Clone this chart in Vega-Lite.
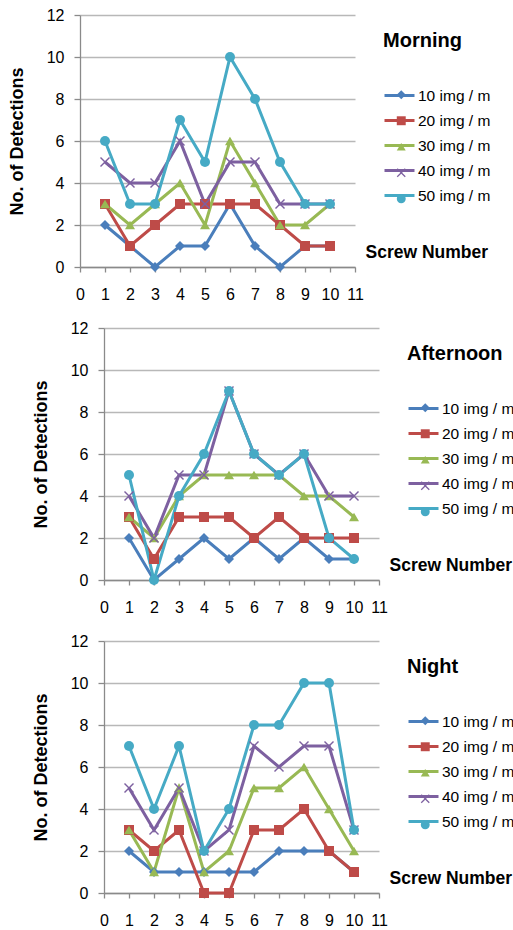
{
  "$schema": "https://vega.github.io/schema/vega-lite/v6.json",
  "padding": {"left": 8, "top": 7, "right": 0, "bottom": 0},
  "spacing": 18,
  "datasets": {
    "morning": [
      {"series": "10 img / m", "screw": 1, "count": 2}, {"series": "10 img / m", "screw": 2, "count": 1}, {"series": "10 img / m", "screw": 3, "count": 0}, {"series": "10 img / m", "screw": 4, "count": 1}, {"series": "10 img / m", "screw": 5, "count": 1}, {"series": "10 img / m", "screw": 6, "count": 3}, {"series": "10 img / m", "screw": 7, "count": 1}, {"series": "10 img / m", "screw": 8, "count": 0}, {"series": "10 img / m", "screw": 9, "count": 1}, {"series": "10 img / m", "screw": 10, "count": 1},
      {"series": "20 img / m", "screw": 1, "count": 3}, {"series": "20 img / m", "screw": 2, "count": 1}, {"series": "20 img / m", "screw": 3, "count": 2}, {"series": "20 img / m", "screw": 4, "count": 3}, {"series": "20 img / m", "screw": 5, "count": 3}, {"series": "20 img / m", "screw": 6, "count": 3}, {"series": "20 img / m", "screw": 7, "count": 3}, {"series": "20 img / m", "screw": 8, "count": 2}, {"series": "20 img / m", "screw": 9, "count": 1}, {"series": "20 img / m", "screw": 10, "count": 1},
      {"series": "30 img / m", "screw": 1, "count": 3}, {"series": "30 img / m", "screw": 2, "count": 2}, {"series": "30 img / m", "screw": 3, "count": 3}, {"series": "30 img / m", "screw": 4, "count": 4}, {"series": "30 img / m", "screw": 5, "count": 2}, {"series": "30 img / m", "screw": 6, "count": 6}, {"series": "30 img / m", "screw": 7, "count": 4}, {"series": "30 img / m", "screw": 8, "count": 2}, {"series": "30 img / m", "screw": 9, "count": 2}, {"series": "30 img / m", "screw": 10, "count": 3},
      {"series": "40 img / m", "screw": 1, "count": 5}, {"series": "40 img / m", "screw": 2, "count": 4}, {"series": "40 img / m", "screw": 3, "count": 4}, {"series": "40 img / m", "screw": 4, "count": 6}, {"series": "40 img / m", "screw": 5, "count": 3}, {"series": "40 img / m", "screw": 6, "count": 5}, {"series": "40 img / m", "screw": 7, "count": 5}, {"series": "40 img / m", "screw": 8, "count": 3}, {"series": "40 img / m", "screw": 9, "count": 3}, {"series": "40 img / m", "screw": 10, "count": 3},
      {"series": "50 img / m", "screw": 1, "count": 6}, {"series": "50 img / m", "screw": 2, "count": 3}, {"series": "50 img / m", "screw": 3, "count": 3}, {"series": "50 img / m", "screw": 4, "count": 7}, {"series": "50 img / m", "screw": 5, "count": 5}, {"series": "50 img / m", "screw": 6, "count": 10}, {"series": "50 img / m", "screw": 7, "count": 8}, {"series": "50 img / m", "screw": 8, "count": 5}, {"series": "50 img / m", "screw": 9, "count": 3}, {"series": "50 img / m", "screw": 10, "count": 3}
    ],
    "afternoon": [
      {"series": "10 img / m", "screw": 1, "count": 2}, {"series": "10 img / m", "screw": 2, "count": 0}, {"series": "10 img / m", "screw": 3, "count": 1}, {"series": "10 img / m", "screw": 4, "count": 2}, {"series": "10 img / m", "screw": 5, "count": 1}, {"series": "10 img / m", "screw": 6, "count": 2}, {"series": "10 img / m", "screw": 7, "count": 1}, {"series": "10 img / m", "screw": 8, "count": 2}, {"series": "10 img / m", "screw": 9, "count": 1}, {"series": "10 img / m", "screw": 10, "count": 1},
      {"series": "20 img / m", "screw": 1, "count": 3}, {"series": "20 img / m", "screw": 2, "count": 1}, {"series": "20 img / m", "screw": 3, "count": 3}, {"series": "20 img / m", "screw": 4, "count": 3}, {"series": "20 img / m", "screw": 5, "count": 3}, {"series": "20 img / m", "screw": 6, "count": 2}, {"series": "20 img / m", "screw": 7, "count": 3}, {"series": "20 img / m", "screw": 8, "count": 2}, {"series": "20 img / m", "screw": 9, "count": 2}, {"series": "20 img / m", "screw": 10, "count": 2},
      {"series": "30 img / m", "screw": 1, "count": 3}, {"series": "30 img / m", "screw": 2, "count": 2}, {"series": "30 img / m", "screw": 3, "count": 4}, {"series": "30 img / m", "screw": 4, "count": 5}, {"series": "30 img / m", "screw": 5, "count": 5}, {"series": "30 img / m", "screw": 6, "count": 5}, {"series": "30 img / m", "screw": 7, "count": 5}, {"series": "30 img / m", "screw": 8, "count": 4}, {"series": "30 img / m", "screw": 9, "count": 4}, {"series": "30 img / m", "screw": 10, "count": 3},
      {"series": "40 img / m", "screw": 1, "count": 4}, {"series": "40 img / m", "screw": 2, "count": 2}, {"series": "40 img / m", "screw": 3, "count": 5}, {"series": "40 img / m", "screw": 4, "count": 5}, {"series": "40 img / m", "screw": 5, "count": 9}, {"series": "40 img / m", "screw": 6, "count": 6}, {"series": "40 img / m", "screw": 7, "count": 5}, {"series": "40 img / m", "screw": 8, "count": 6}, {"series": "40 img / m", "screw": 9, "count": 4}, {"series": "40 img / m", "screw": 10, "count": 4},
      {"series": "50 img / m", "screw": 1, "count": 5}, {"series": "50 img / m", "screw": 2, "count": 0}, {"series": "50 img / m", "screw": 3, "count": 4}, {"series": "50 img / m", "screw": 4, "count": 6}, {"series": "50 img / m", "screw": 5, "count": 9}, {"series": "50 img / m", "screw": 6, "count": 6}, {"series": "50 img / m", "screw": 7, "count": 5}, {"series": "50 img / m", "screw": 8, "count": 6}, {"series": "50 img / m", "screw": 9, "count": 2}, {"series": "50 img / m", "screw": 10, "count": 1}
    ],
    "night": [
      {"series": "10 img / m", "screw": 1, "count": 2}, {"series": "10 img / m", "screw": 2, "count": 1}, {"series": "10 img / m", "screw": 3, "count": 1}, {"series": "10 img / m", "screw": 4, "count": 1}, {"series": "10 img / m", "screw": 5, "count": 1}, {"series": "10 img / m", "screw": 6, "count": 1}, {"series": "10 img / m", "screw": 7, "count": 2}, {"series": "10 img / m", "screw": 8, "count": 2}, {"series": "10 img / m", "screw": 9, "count": 2}, {"series": "10 img / m", "screw": 10, "count": 1},
      {"series": "20 img / m", "screw": 1, "count": 3}, {"series": "20 img / m", "screw": 2, "count": 2}, {"series": "20 img / m", "screw": 3, "count": 3}, {"series": "20 img / m", "screw": 4, "count": 0}, {"series": "20 img / m", "screw": 5, "count": 0}, {"series": "20 img / m", "screw": 6, "count": 3}, {"series": "20 img / m", "screw": 7, "count": 3}, {"series": "20 img / m", "screw": 8, "count": 4}, {"series": "20 img / m", "screw": 9, "count": 2}, {"series": "20 img / m", "screw": 10, "count": 1},
      {"series": "30 img / m", "screw": 1, "count": 3}, {"series": "30 img / m", "screw": 2, "count": 1}, {"series": "30 img / m", "screw": 3, "count": 5}, {"series": "30 img / m", "screw": 4, "count": 1}, {"series": "30 img / m", "screw": 5, "count": 2}, {"series": "30 img / m", "screw": 6, "count": 5}, {"series": "30 img / m", "screw": 7, "count": 5}, {"series": "30 img / m", "screw": 8, "count": 6}, {"series": "30 img / m", "screw": 9, "count": 4}, {"series": "30 img / m", "screw": 10, "count": 2},
      {"series": "40 img / m", "screw": 1, "count": 5}, {"series": "40 img / m", "screw": 2, "count": 3}, {"series": "40 img / m", "screw": 3, "count": 5}, {"series": "40 img / m", "screw": 4, "count": 2}, {"series": "40 img / m", "screw": 5, "count": 3}, {"series": "40 img / m", "screw": 6, "count": 7}, {"series": "40 img / m", "screw": 7, "count": 6}, {"series": "40 img / m", "screw": 8, "count": 7}, {"series": "40 img / m", "screw": 9, "count": 7}, {"series": "40 img / m", "screw": 10, "count": 3},
      {"series": "50 img / m", "screw": 1, "count": 7}, {"series": "50 img / m", "screw": 2, "count": 4}, {"series": "50 img / m", "screw": 3, "count": 7}, {"series": "50 img / m", "screw": 4, "count": 2}, {"series": "50 img / m", "screw": 5, "count": 4}, {"series": "50 img / m", "screw": 6, "count": 8}, {"series": "50 img / m", "screw": 7, "count": 8}, {"series": "50 img / m", "screw": 8, "count": 10}, {"series": "50 img / m", "screw": 9, "count": 10}, {"series": "50 img / m", "screw": 10, "count": 3}
    ],
    "one": [{"k": 1}]
  },
  "vconcat": [
    {
      "width": 275, "height": 252,
      "data": {"name": "morning"},
      "encoding": {
        "x": {"field": "screw", "type": "quantitative", "scale": {"domain": [0, 11], "nice": false},
              "axis": {"values": [0,1,2,3,4,5,6,7,8,9,10,11], "grid": false, "tickSize": 5, "labelPadding": 14, "labelFlush": false, "labelOverlap": false,
                       "title": "Screw Number", "titleX": 285, "titleY": -10, "titleAlign": "left", "titleBaseline": "alphabetic", "titleAnchor": null, "titleFontSize": 17.5, "titleFontWeight": "bold"}},
        "y": {"field": "count", "type": "quantitative", "scale": {"domain": [0, 12], "nice": false},
              "axis": {"values": [0,2,4,6,8,10,12], "grid": true, "tickSize": 6, "labelPadding": 10, "title": "No. of Detections", "titleFontSize": 18, "titleFontWeight": "bold", "titlePadding": 20}}
      },
      "layer": [
        {"mark": {"type": "line", "strokeWidth": 3},
         "encoding": {"color": {"field": "series", "type": "nominal",
           "scale": {"domain": ["10 img / m","20 img / m","30 img / m","40 img / m","50 img / m"], "range": ["#4A7EBB","#BE4B48","#98B954","#7D60A0","#46AAC5"]},
           "legend": {"title": "Morning", "orient": "none", "legendX": 303, "legendY": 16, "padding": 0, "titleFontSize": 20, "titleFontWeight": "bold", "titlePadding": 28, "symbolType": "stroke", "symbolSize": 900, "symbolStrokeWidth": 3, "labelFontSize": 15.5, "labelOffset": 2, "rowPadding": 0}}}},
        {"mark": {"type": "point", "filled": true, "size": 100, "opacity": 1},
         "encoding": {
           "color": {"field": "series", "type": "nominal",
             "scale": {"domain": ["10 img / m","20 img / m","30 img / m","40 img / m","50 img / m"], "range": ["#4A7EBB","#BE4B48","#98B954","#7D60A0","#46AAC5"]},
             "legend": {"title": null, "orient": "none", "legendX": 313.5, "legendY": 72, "padding": 0, "symbolSize": 80, "symbolStrokeWidth": 0, "labelExpr": "' '", "labelFontSize": 15.5, "labelOffset": 2, "rowPadding": 9}},
           "shape": {"field": "series", "type": "nominal",
             "scale": {"domain": ["10 img / m","20 img / m","30 img / m","40 img / m","50 img / m"], "range": ["diamond","square","triangle-up","M0,-0.2L0.8,-1L1,-0.8L0.2,0L1,0.8L0.8,1L0,0.2L-0.8,1L-1,0.8L-0.2,0L-1,-0.8L-0.8,-1Z","circle"]},
             "legend": {"title": null, "orient": "none", "legendX": 313.5, "legendY": 72, "padding": 0, "symbolSize": 80, "symbolStrokeWidth": 0, "labelExpr": "' '", "labelFontSize": 15.5, "labelOffset": 2, "rowPadding": 9}}}},
        {"data": {"name": "one"}, "mark": {"type": "rule", "color": "#000", "strokeWidth": 1.3},
         "encoding": {"x": {"datum": 11, "type": "quantitative"}, "x2": {"datum": 12.0}, "y": {"datum": 0, "type": "quantitative"}}},
        {"data": {"name": "one"}, "mark": {"type": "point", "shape": "triangle-right", "filled": true, "color": "#000", "size": 45, "opacity": 1},
         "encoding": {"x": {"datum": 12.08, "type": "quantitative"}, "y": {"datum": 0, "type": "quantitative"}}}
      ],
      "resolve": {"legend": {"color": "independent", "shape": "independent"}}
    },
    {
      "width": 299, "height": 252,
      "data": {"name": "afternoon"},
      "encoding": {
        "x": {"field": "screw", "type": "quantitative", "scale": {"domain": [0, 11], "nice": false, "range": [24, 299]},
              "axis": {"values": [0,1,2,3,4,5,6,7,8,9,10,11], "grid": false, "tickSize": 5, "labelPadding": 14, "labelFlush": false, "labelOverlap": false,
                       "title": "Screw Number", "titleX": 309, "titleY": -10, "titleAlign": "left", "titleBaseline": "alphabetic", "titleAnchor": null, "titleFontSize": 17.5, "titleFontWeight": "bold"}},
        "y": {"field": "count", "type": "quantitative", "scale": {"domain": [0, 12], "nice": false},
              "axis": {"offset": -24, "values": [0,2,4,6,8,10,12], "grid": true, "tickSize": 6, "labelPadding": 10, "title": "No. of Detections", "titleFontSize": 18, "titleFontWeight": "bold", "titlePadding": 20}}
      },
      "layer": [
        {"mark": {"type": "line", "strokeWidth": 3},
         "encoding": {"color": {"field": "series", "type": "nominal",
           "scale": {"domain": ["10 img / m","20 img / m","30 img / m","40 img / m","50 img / m"], "range": ["#4A7EBB","#BE4B48","#98B954","#7D60A0","#46AAC5"]},
           "legend": {"title": "Afternoon", "orient": "none", "legendX": 327, "legendY": 16, "padding": 0, "titleFontSize": 20, "titleFontWeight": "bold", "titlePadding": 28, "symbolType": "stroke", "symbolSize": 900, "symbolStrokeWidth": 3, "labelFontSize": 15.5, "labelOffset": 2, "rowPadding": 0}}}},
        {"mark": {"type": "point", "filled": true, "size": 100, "opacity": 1},
         "encoding": {
           "color": {"field": "series", "type": "nominal",
             "scale": {"domain": ["10 img / m","20 img / m","30 img / m","40 img / m","50 img / m"], "range": ["#4A7EBB","#BE4B48","#98B954","#7D60A0","#46AAC5"]},
             "legend": {"title": null, "orient": "none", "legendX": 337.5, "legendY": 72, "padding": 0, "symbolSize": 80, "symbolStrokeWidth": 0, "labelExpr": "' '", "labelFontSize": 15.5, "labelOffset": 2, "rowPadding": 9}},
           "shape": {"field": "series", "type": "nominal",
             "scale": {"domain": ["10 img / m","20 img / m","30 img / m","40 img / m","50 img / m"], "range": ["diamond","square","triangle-up","M0,-0.2L0.8,-1L1,-0.8L0.2,0L1,0.8L0.8,1L0,0.2L-0.8,1L-1,0.8L-0.2,0L-1,-0.8L-0.8,-1Z","circle"]},
             "legend": {"title": null, "orient": "none", "legendX": 337.5, "legendY": 72, "padding": 0, "symbolSize": 80, "symbolStrokeWidth": 0, "labelExpr": "' '", "labelFontSize": 15.5, "labelOffset": 2, "rowPadding": 9}}}},
        {"data": {"name": "one"}, "mark": {"type": "rule", "color": "#000", "strokeWidth": 1.3},
         "encoding": {"x": {"datum": 11, "type": "quantitative"}, "x2": {"datum": 12.0}, "y": {"datum": 0, "type": "quantitative"}}},
        {"data": {"name": "one"}, "mark": {"type": "point", "shape": "triangle-right", "filled": true, "color": "#000", "size": 45, "opacity": 1},
         "encoding": {"x": {"datum": 12.08, "type": "quantitative"}, "y": {"datum": 0, "type": "quantitative"}}}
      ],
      "resolve": {"legend": {"color": "independent", "shape": "independent"}}
    },
    {
      "width": 299, "height": 252,
      "data": {"name": "night"},
      "encoding": {
        "x": {"field": "screw", "type": "quantitative", "scale": {"domain": [0, 11], "nice": false, "range": [24, 299]},
              "axis": {"values": [0,1,2,3,4,5,6,7,8,9,10,11], "grid": false, "tickSize": 5, "labelPadding": 14, "labelFlush": false, "labelOverlap": false,
                       "title": "Screw Number", "titleX": 309, "titleY": -10, "titleAlign": "left", "titleBaseline": "alphabetic", "titleAnchor": null, "titleFontSize": 17.5, "titleFontWeight": "bold"}},
        "y": {"field": "count", "type": "quantitative", "scale": {"domain": [0, 12], "nice": false},
              "axis": {"offset": -24, "values": [0,2,4,6,8,10,12], "grid": true, "tickSize": 6, "labelPadding": 10, "title": "No. of Detections", "titleFontSize": 18, "titleFontWeight": "bold", "titlePadding": 20}}
      },
      "layer": [
        {"mark": {"type": "line", "strokeWidth": 3},
         "encoding": {"color": {"field": "series", "type": "nominal",
           "scale": {"domain": ["10 img / m","20 img / m","30 img / m","40 img / m","50 img / m"], "range": ["#4A7EBB","#BE4B48","#98B954","#7D60A0","#46AAC5"]},
           "legend": {"title": "Night", "orient": "none", "legendX": 327, "legendY": 16, "padding": 0, "titleFontSize": 20, "titleFontWeight": "bold", "titlePadding": 28, "symbolType": "stroke", "symbolSize": 900, "symbolStrokeWidth": 3, "labelFontSize": 15.5, "labelOffset": 2, "rowPadding": 0}}}},
        {"mark": {"type": "point", "filled": true, "size": 100, "opacity": 1},
         "encoding": {
           "color": {"field": "series", "type": "nominal",
             "scale": {"domain": ["10 img / m","20 img / m","30 img / m","40 img / m","50 img / m"], "range": ["#4A7EBB","#BE4B48","#98B954","#7D60A0","#46AAC5"]},
             "legend": {"title": null, "orient": "none", "legendX": 337.5, "legendY": 72, "padding": 0, "symbolSize": 80, "symbolStrokeWidth": 0, "labelExpr": "' '", "labelFontSize": 15.5, "labelOffset": 2, "rowPadding": 9}},
           "shape": {"field": "series", "type": "nominal",
             "scale": {"domain": ["10 img / m","20 img / m","30 img / m","40 img / m","50 img / m"], "range": ["diamond","square","triangle-up","M0,-0.2L0.8,-1L1,-0.8L0.2,0L1,0.8L0.8,1L0,0.2L-0.8,1L-1,0.8L-0.2,0L-1,-0.8L-0.8,-1Z","circle"]},
             "legend": {"title": null, "orient": "none", "legendX": 337.5, "legendY": 72, "padding": 0, "symbolSize": 80, "symbolStrokeWidth": 0, "labelExpr": "' '", "labelFontSize": 15.5, "labelOffset": 2, "rowPadding": 9}}}},
        {"data": {"name": "one"}, "mark": {"type": "rule", "color": "#000", "strokeWidth": 1.3},
         "encoding": {"x": {"datum": 11, "type": "quantitative"}, "x2": {"datum": 12.0}, "y": {"datum": 0, "type": "quantitative"}}},
        {"data": {"name": "one"}, "mark": {"type": "point", "shape": "triangle-right", "filled": true, "color": "#000", "size": 45, "opacity": 1},
         "encoding": {"x": {"datum": 12.08, "type": "quantitative"}, "y": {"datum": 0, "type": "quantitative"}}}
      ],
      "resolve": {"legend": {"color": "independent", "shape": "independent"}}
    }
  ],
  "resolve": {"scale": {"color": "independent", "shape": "independent"}, "legend": {"color": "independent", "shape": "independent"}},
  "config": {
    "font": "Liberation Sans",
    "view": {"stroke": null},
    "axis": {"domainColor": "#8A8A8A", "domainWidth": 1.3, "tickColor": "#8A8A8A", "tickWidth": 1.3, "gridColor": "#B8B8B8", "gridWidth": 1.3,
             "labelColor": "#000", "labelFontSize": 16, "labelFont": "Liberation Sans", "titleColor": "#000", "titleFont": "Liberation Sans"},
    "legend": {"labelColor": "#000", "labelFont": "Liberation Sans", "titleColor": "#000", "titleFont": "Liberation Sans"}
  }
}
